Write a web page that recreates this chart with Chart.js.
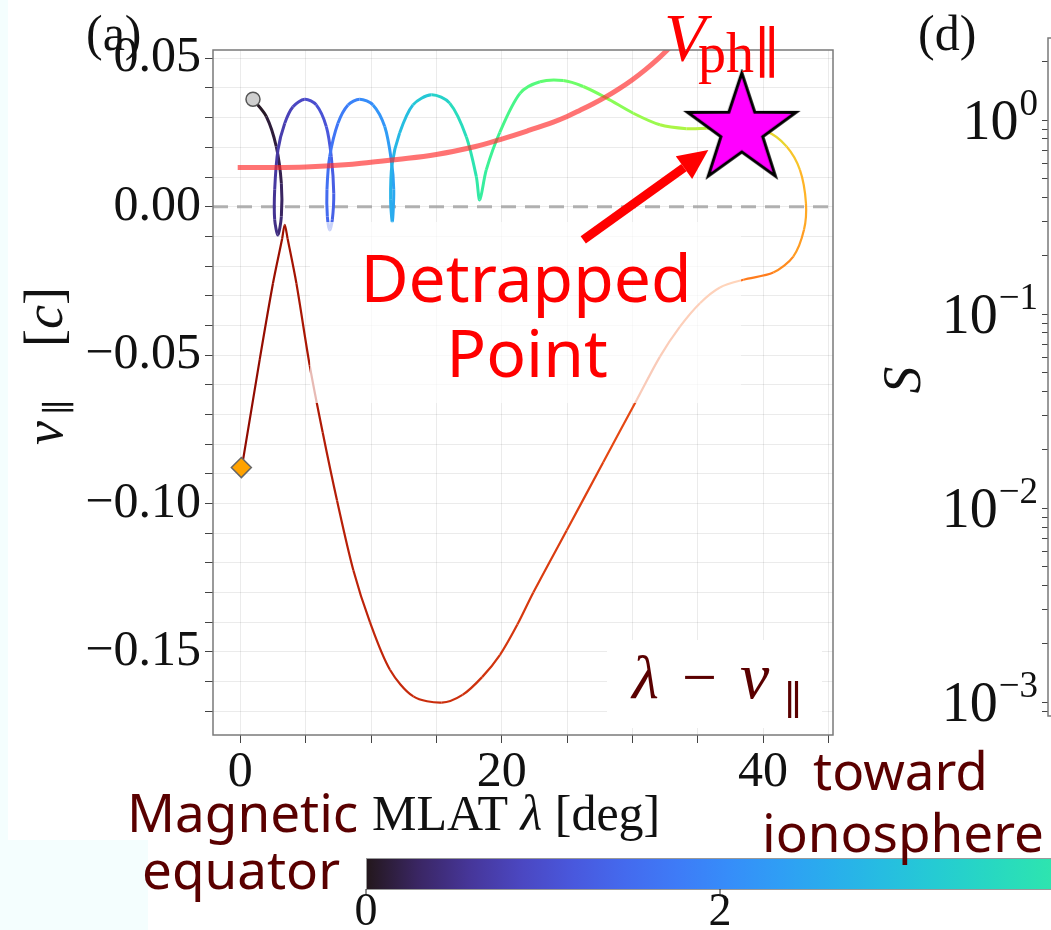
<!DOCTYPE html>
<html>
<head>
<meta charset="utf-8">
<script src="https://cdn.jsdelivr.net/npm/chart.js@4.4.1/dist/chart.umd.min.js"></script>
<style>
  html, body { margin: 0; padding: 0; background: #fff; overflow: hidden; }
  #wrap { position: relative; width: 1051px; height: 930px; overflow: hidden; }
  .tint { position: absolute; background: #f4fefe; }
  #main { position: absolute; left: 0; top: 0; }
  #side { position: absolute; left: 840px; top: 0; }
</style>
</head>
<body>
<div id="wrap">
  <div class="tint" style="left:0;top:0;width:8px;height:930px"></div>
  <div class="tint" style="left:0;top:840px;width:148px;height:90px"></div>
  <canvas id="main" width="1051" height="930"></canvas>
  <canvas id="side" width="420" height="740"></canvas>
</div>
<script>
// particle orbit: MLAT [deg], v_par [c], time (colour bar units)
const trajLat = [0.97, 1.99, 2.75, 3.14, 3.14, 2.88, 2.63, 2.63, 2.88, 3.40, 4.03, 4.93, 5.81, 6.58, 6.96, 7.15, 7.04, 6.84, 6.66, 6.63,
  6.84, 7.47, 8.24, 9.13, 10.15, 11.05, 11.55, 11.74, 11.63, 11.50, 11.60, 12.19, 13.21, 14.62, 16.02, 17.29, 18.06, 18.32, 18.82, 19.85,
  21.40, 22.93, 24.71, 26.24, 28.03, 30.07, 32.11, 34.15, 35.68, 37.00, 38.37,
  40.28, 41.80, 42.82, 43.28, 43.13, 42.31, 40.78, 38.49, 36.70, 35.17, 33.64, 32.11, 30.33, 27.77, 24.97, 22.42, 21.20, 19.87, 18.50,
  17.00, 15.41, 13.24, 11.45, 9.92, 8.65, 7.40, 6.30, 5.31, 4.29, 3.62, 3.40, 3.20, 2.50, 1.48, 0.21, 0.08];
const trajVpar = [0.0362, 0.0304, 0.0203, 0.0079, -0.0033, -0.0095, -0.0044, 0.0057, 0.0191, 0.0281, 0.0337, 0.0362, 0.0343, 0.0270, 0.0169, 0.0045, -0.0044, -0.0078, -0.0033, 0.0057,
  0.0169, 0.0281, 0.0343, 0.0362, 0.0343, 0.0270, 0.0158, 0.0057, -0.0050, 0.0023, 0.0140, 0.0248, 0.0343, 0.0377, 0.0349, 0.0236, 0.0101, 0.0023, 0.0124, 0.0250,
  0.0382, 0.0421, 0.0425, 0.0405, 0.0366, 0.0315, 0.0276, 0.0263, 0.0264, 0.0265, 0.0259,
  0.0253, 0.0203, 0.0124, 0.0012, -0.0078, -0.0168, -0.0222, -0.0246, -0.0272, -0.0325, -0.0404, -0.0505, -0.0651, -0.0861, -0.1091, -0.1300, -0.1408, -0.1510, -0.1585,
  -0.1645, -0.1671, -0.1650, -0.1560, -0.1400, -0.1225, -0.0990, -0.0760, -0.0535, -0.0258, -0.0108, -0.0061, -0.0108, -0.0258, -0.0516, -0.0853, -0.0879];
const trajTime = [0, 0.08, 0.16, 0.25, 0.33, 0.43, 0.51, 0.59, 0.68, 0.76, 0.84, 0.94, 1.03, 1.12, 1.21, 1.29, 1.36, 1.40, 1.45, 1.52,
  1.60, 1.71, 1.81, 1.97, 2.11, 2.25, 2.36, 2.46, 2.57, 2.67, 2.76, 2.87, 3.02, 3.28, 3.51, 3.74, 3.95, 4.10, 4.24, 4.42,
  4.68, 4.91, 5.15, 5.32, 5.56, 5.79, 6.03, 6.26, 6.41, 6.51, 6.61,
  7.02, 7.37, 7.72, 8.01, 8.19, 8.42, 8.72, 8.95, 9.13, 9.24, 9.36, 9.48, 9.65, 9.77, 9.89, 9.97, 10.02, 10.06, 10.11,
  10.16, 10.20, 10.27, 10.34, 10.41, 10.48, 10.57, 10.65, 10.73, 10.86, 10.95, 11.00, 11.06, 11.17, 11.35, 11.58, 11.64];

// parallel phase velocity of the wave
const vphLat = [-0.2, 2, 5, 8, 10, 12, 15, 18, 20, 22, 24, 25, 26, 27, 28, 29, 30, 31, 32, 33];
const vphVal = [0.0132, 0.0132, 0.0134, 0.0141, 0.0150, 0.0159, 0.0176, 0.0203, 0.0228, 0.0256, 0.0286, 0.0304, 0.0325, 0.0347, 0.0371, 0.0398, 0.0428, 0.0462, 0.0500, 0.0542];

const startPoint = [0.97, 0.0362];
const endPoint = [0.08, -0.0879];
const detrapPoint = [38.37, 0.0259];
const arrowTail = [26.24, -0.0112];
const arrowTip = [35.81, 0.0191];

const xRange = [-2.09, 45.35];
const yRange = [-0.178, 0.0528];
const xTicksShown = [0, 20, 40];
const yTicksShown = [-0.15, -0.10, -0.05, 0.00, 0.05];
const cbTicks = [0, 2];
const cbMax = 11.7;
const sPowers = [0, -1, -2, -3];
const sRange = [0.00085, 2.65];

const SERIF = '"Liberation Serif", "DejaVu Serif", serif';
const SANS = '"Noto Sans", "Open Sans", sans-serif';
const MAROON = '#5a0000';

function turbo(t) {
  t = Math.max(0, Math.min(1, t));
  const r = 0.13572138 + t * (4.61539260 + t * (-42.66032258 + t * (132.13108234 + t * (-152.94239396 + t * 59.28637943))));
  const g = 0.09140261 + t * (2.19418839 + t * (4.84296658 + t * (-14.18503333 + t * (4.27729857 + t * 2.82956604))));
  const b = 0.10667330 + t * (12.64194608 + t * (-60.58204836 + t * (110.36276771 + t * (-89.90310912 + t * 27.34824973))));
  const c = v => Math.round(255 * Math.max(0, Math.min(1, v)));
  return `rgb(${c(r)},${c(g)},${c(b)})`;
}

function makeStar(R, r) {
  const c = document.createElement('canvas');
  const s = Math.ceil(2 * R + 8);
  c.width = s; c.height = s;
  const g = c.getContext('2d');
  g.translate(s / 2, s / 2);
  g.beginPath();
  for (let i = 0; i < 10; i++) {
    const rad = i % 2 ? r : R;
    const ang = -Math.PI / 2 + i * Math.PI / 5;
    g.lineTo(rad * Math.cos(ang), rad * Math.sin(ang));
  }
  g.closePath();
  g.fillStyle = '#ff00ff';
  g.fill();
  g.lineWidth = 3;
  g.strokeStyle = '#000';
  g.stroke();
  return c;
}

// draw text pieces on one baseline; "at" pins a piece to an offset from the start
function runs(ctx, parts, x, y) {
  const x0 = x;
  for (const p of parts) {
    ctx.font = p.font;
    const px = p.at !== undefined ? x0 + p.at : x;
    ctx.fillText(p.text, px, y + (p.dy || 0));
    x = px + ctx.measureText(p.text).width;
  }
  return x;
}

const trajPts = trajLat.map((v, i) => ({ x: v, y: trajVpar[i] }));
const vphPts = vphLat.map((v, i) => ({ x: v, y: vphVal[i] }));

const overlay = {
  id: 'overlay',
  afterDatasetsDraw(chart) {
    const { ctx, chartArea: a, scales: { x, y } } = chart;
    ctx.save();

    // frame
    ctx.strokeStyle = '#7a7a7a';
    ctx.lineWidth = 1.5;
    ctx.strokeRect(a.left, a.top, a.right - a.left, a.bottom - a.top);

    // translucent box behind the "Detrapped Point" text
    ctx.fillStyle = 'rgba(255,255,255,0.7)';
    ctx.fillRect(310, 222, 431, 181);
    ctx.fillStyle = '#ff0000';
    ctx.font = '66px ' + SANS;
    ctx.textAlign = 'center';
    ctx.fillText('Detrapped', 526, 302);
    ctx.fillText('Point', 527, 377);
    ctx.textAlign = 'left';

    // arrow to the detrapping point
    const x0 = x.getPixelForValue(arrowTail[0]), y0 = y.getPixelForValue(arrowTail[1]);
    const x1 = x.getPixelForValue(arrowTip[0]), y1 = y.getPixelForValue(arrowTip[1]);
    const ang = Math.atan2(y1 - y0, x1 - x0), hl = 30, hw = 14;
    const cs = Math.cos(ang), sn = Math.sin(ang);
    ctx.strokeStyle = '#ff0000';
    ctx.lineWidth = 9;
    ctx.beginPath();
    ctx.moveTo(x0, y0);
    ctx.lineTo(x1 - hl * cs, y1 - hl * sn);
    ctx.stroke();
    ctx.beginPath();
    ctx.moveTo(x1, y1);
    ctx.lineTo(x1 - hl * cs + hw * sn, y1 - hl * sn - hw * cs);
    ctx.lineTo(x1 - hl * cs - hw * sn, y1 - hl * sn + hw * cs);
    ctx.closePath();
    ctx.fill();

    // V_ph label
    ctx.fillStyle = '#ff0000';
    ctx.font = 'italic 68px ' + SERIF;
    ctx.fillText('V', 664, 60);
    ctx.font = '56px ' + SERIF;
    ctx.fillText('ph\u2225', 698, 72);

    // lambda - v label on white box
    ctx.fillStyle = '#fff';
    ctx.fillRect(607, 640, 215, 88);
    ctx.fillStyle = MAROON;
    runs(ctx, [
      { text: '\u03bb', font: 'italic 62px ' + SERIF, at: 0 },
      { text: '\u2212', font: '62px ' + SERIF, at: 50 },
      { text: 'v', font: 'italic 66px ' + SERIF, at: 108 },
      { text: '\u2225', font: '40px ' + SERIF, at: 152, dy: 16 }
    ], 632, 698);

    // panel letter
    ctx.fillStyle = '#111';
    ctx.font = '50px ' + SERIF;
    ctx.fillText('(a)', 86, 50);

    // axis titles
    runs(ctx, [
      { text: 'MLAT ', font: '50px ' + SERIF },
      { text: '\u03bb', font: 'italic 50px ' + SERIF },
      { text: ' [deg]', font: '50px ' + SERIF }
    ], 372, 830);

    ctx.save();
    ctx.translate(62, 445);
    ctx.rotate(-Math.PI / 2);
    runs(ctx, [
      { text: 'v', font: 'italic 54px ' + SERIF, at: 0 },
      { text: '\u2225', font: '34px ' + SERIF, at: 30, dy: 8 },
      { text: '[', font: '54px ' + SERIF, at: 98 },
      { text: 'c', font: 'italic 54px ' + SERIF, at: 116 },
      { text: ']', font: '54px ' + SERIF, at: 140 }
    ], 0, 0);
    ctx.restore();

    // colour bar (time)
    const cbX = 366, cbUnit = 177, cbTop = 858, cbH = 31;
    const grad = ctx.createLinearGradient(cbX, 0, cbX + cbMax * cbUnit, 0);
    for (let i = 0; i <= 40; i++) grad.addColorStop(i / 40, turbo(i / 40));
    ctx.fillStyle = grad;
    ctx.fillRect(cbX, cbTop, cbMax * cbUnit, cbH);
    ctx.strokeStyle = '#999';
    ctx.lineWidth = 1;
    ctx.strokeRect(cbX + 0.5, cbTop + 0.5, cbMax * cbUnit, cbH);
    ctx.strokeStyle = '#222';
    ctx.fillStyle = '#111';
    ctx.font = '46px ' + SERIF;
    ctx.textAlign = 'center';
    cbTicks.forEach(t => {
      const tx = cbX + t * cbUnit;
      ctx.beginPath();
      ctx.moveTo(tx, cbTop + cbH);
      ctx.lineTo(tx, cbTop + cbH + 6);
      ctx.stroke();
      ctx.fillText(String(t), tx, 925);
    });
    ctx.textAlign = 'left';

    // direction notes
    ctx.fillStyle = MAROON;
    ctx.font = '53px ' + SANS;
    ctx.fillText('Magnetic', 127, 832);
    ctx.fillText('equator', 142, 889);
    ctx.fillText('toward', 813, 790);
    ctx.fillText('ionosphere', 762, 852);

    ctx.restore();
  }
};

const yGrid = [];
for (let k = -17; k <= 5; k++) yGrid.push(k / 100);
const xGrid = [];
for (let k = 0; k <= 45; k += 5) xGrid.push(k);

new Chart(document.getElementById('main'), {
  type: 'scatter',
  data: {
    datasets: [
      { label: 'detrapped', data: [{ x: detrapPoint[0], y: detrapPoint[1] }], pointStyle: makeStar(57, 22), pointRadius: 30, order: 0 },
      { label: 'start', data: [{ x: startPoint[0], y: startPoint[1] }], pointStyle: 'circle', pointRadius: 7,
        backgroundColor: '#cfcfcf', borderColor: '#555', borderWidth: 1.5, order: 0 },
      { label: 'end', data: [{ x: endPoint[0], y: endPoint[1] }], pointStyle: 'rectRot', pointRadius: 10,
        backgroundColor: '#ffa200', borderColor: '#666', borderWidth: 1.5, order: 0 },
      { label: 'Vph', type: 'line', data: vphPts, borderColor: 'rgba(255,40,40,0.65)', borderWidth: 5,
        pointRadius: 0, tension: 0.4, order: 1 },
      { label: 'orbit', type: 'line', data: trajPts, pointRadius: 0, tension: 0.3, order: 2,
        borderWidth: 2.5,
        segment: {
          borderColor: c => turbo((trajTime[c.p0DataIndex] + trajTime[c.p1DataIndex]) / 2 / cbMax),
          borderWidth: c => c.p0DataIndex < 51 ? 3 : 2.2
        } },
      { label: 'zero', type: 'line', data: [{ x: xRange[0], y: 0 }, { x: xRange[1], y: 0 }],
        borderColor: 'rgba(165,165,165,0.85)', borderWidth: 3, borderDash: [15, 9], pointRadius: 0, order: 3 }
    ]
  },
  options: {
    responsive: false,
    animation: false,
    layout: { padding: { left: 0, top: 50, right: 218, bottom: 135 } },
    plugins: { legend: { display: false }, tooltip: { enabled: false } },
    scales: {
      x: {
        type: 'linear', min: xRange[0], max: xRange[1],
        afterFit: s => { s.height = 60; },
        afterBuildTicks: s => { s.ticks = xGrid.map(v => ({ value: v })); },
        ticks: {
          autoSkip: false, maxRotation: 0, padding: 0, color: '#111',
          font: { family: SERIF, size: 50 },
          callback: v => xTicksShown.includes(v) ? String(v) : ''
        },
        grid: { color: 'rgba(0,0,0,0.08)', tickColor: '#444', tickLength: 8 },
        border: { display: false }
      },
      y: {
        type: 'linear', min: yRange[0], max: yRange[1],
        afterFit: s => { s.width = 213; },
        afterBuildTicks: s => { s.ticks = yGrid.map(v => ({ value: v })); },
        ticks: {
          autoSkip: false, padding: 4, color: '#111',
          font: { family: SERIF, size: 50 },
          callback: v => yTicksShown.some(t => Math.abs(t - v) < 1e-6) ? v.toFixed(2).replace('-', '\u2212') : ''
        },
        grid: { color: 'rgba(0,0,0,0.08)', tickColor: '#444', tickLength: 8 },
        border: { display: false }
      }
    }
  },
  plugins: [overlay]
});

// partially visible neighbour panel (d)
const sideLabels = {
  id: 'sideLabels',
  afterDraw(chart) {
    const { ctx, chartArea: a, scales: { y } } = chart;
    ctx.save();
    ctx.strokeStyle = '#7a7a7a';
    ctx.lineWidth = 1.5;
    ctx.strokeRect(a.left, a.top, a.right - a.left, a.bottom - a.top);
    ctx.fillStyle = '#111';
    ctx.textAlign = 'left';
    sPowers.forEach(p => {
      const ty = y.getPixelForValue(Math.pow(10, p));
      const sup = p === 0 ? '0' : '\u2212' + String(-p);
      ctx.font = '37px ' + SERIF;
      const sw = ctx.measureText(sup).width;
      ctx.font = '56px ' + SERIF;
      const tw = ctx.measureText('10').width;
      const right = a.left - 10;
      ctx.fillText('10', right - sw - tw - 1, ty + 19);
      ctx.font = '37px ' + SERIF;
      ctx.fillText(sup, right - sw, ty - 5);
    });
    ctx.font = '50px ' + SERIF;
    ctx.fillText('(d)', 78, 50);
    ctx.save();
    ctx.translate(80, 380);
    ctx.rotate(-Math.PI / 2);
    ctx.textAlign = 'center';
    ctx.font = 'italic 54px ' + SERIF;
    ctx.fillText('S', 0, 0);
    ctx.restore();
    ctx.restore();
  }
};

const sGrid = [];
for (let p = -4; p <= 0; p++) for (let m = 1; m <= 9; m++) {
  const v = m * Math.pow(10, p);
  if (v >= sRange[0] && v <= sRange[1]) sGrid.push(v);
}

new Chart(document.getElementById('side'), {
  type: 'scatter',
  data: { datasets: [] },
  options: {
    responsive: false,
    animation: false,
    layout: { padding: { left: 0, top: 38, right: 0, bottom: 24 } },
    plugins: { legend: { display: false }, tooltip: { enabled: false } },
    scales: {
      x: { display: false, min: 0, max: 1 },
      y: {
        type: 'logarithmic', min: sRange[0], max: sRange[1],
        afterFit: s => { s.width = 208; },
        afterBuildTicks: s => { s.ticks = sGrid.map(v => ({ value: v })); },
        ticks: { display: true, color: 'rgba(0,0,0,0)', font: { size: 1 }, callback: () => '' },
        grid: { drawOnChartArea: false, tickColor: '#444', tickLength: 6 },
        border: { display: false }
      }
    }
  },
  plugins: [sideLabels]
});
</script>
</body>
</html>
